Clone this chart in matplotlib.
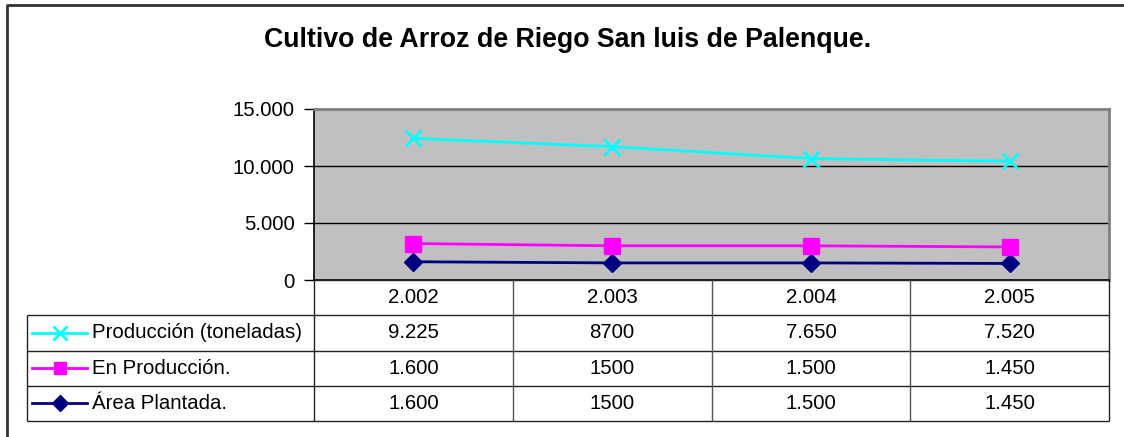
import numpy as np
import matplotlib
matplotlib.use('Agg')
import matplotlib.pyplot as plt

plt.rcParams['font.family'] = ['Liberation Sans', 'DejaVu Sans']

# Datos de la tabla
years = ['2.002', '2.003', '2.004', '2.005']
area_plantada = [1600, 1500, 1500, 1450]
en_produccion = [1600, 1500, 1500, 1450]
produccion = [9225, 8700, 7650, 7520]

# textos tal como aparecen en la tabla
area_txt = ['1.600', '1500', '1.500', '1.450']
en_prod_txt = ['1.600', '1500', '1.500', '1.450']
prod_txt = ['9.225', '8700', '7.650', '7.520']

series_names = ['Producción (toneladas)', 'En Producción.', 'Área Plantada.']
yticks = [0, 5000, 10000, 15000]
ytick_labels = ['0', '5.000', '10.000', '15.000']

W, H = 1124, 437
FS = 14.7
fig = plt.figure(figsize=(W / 100, H / 100), dpi=100)

# marco exterior
ov = fig.add_axes([0, 0, 1, 1])
ov.set_xlim(0, W)
ov.set_ylim(H, 0)
ov.axis('off')
ov.plot([7, 7, W], [H, 4.5, 4.5], color='#333333', lw=2, solid_capstyle='butt')
ov.text(568, 40, 'Cultivo de Arroz de Riego San luis de Palenque.',
        ha='center', va='center', fontsize=19.3, weight='bold')

# area del grafico
left, right, top, bottom = 314, 1109, 109, 280
ax = fig.add_axes([left / W, 1 - bottom / H, (right - left) / W, (bottom - top) / H])
ax.set_facecolor('#C0C0C0')
x = np.arange(len(years))

# lineas apiladas
stack = np.cumsum([area_plantada, en_produccion, produccion], axis=0)
styles = [
    dict(color='#000080', marker='D', ms=9),
    dict(color='#FF00FF', marker='s', ms=11),
    dict(color='#00FFFF', marker='x', ms=12, mew=2),
]
for vals, st in zip(stack, styles):
    ax.plot(x, vals, lw=2, zorder=3, **st)

ax.set_xlim(-0.5, len(years) - 0.5)
ax.set_ylim(0, 15000)
ax.set_yticks(yticks)
ax.set_yticklabels(ytick_labels, fontsize=FS)
ax.set_xticks([])
ax.tick_params(axis='y', length=7, width=1, pad=7, direction='out')
for y in yticks[1:-1]:
    ax.axhline(y, color='black', lw=1, zorder=1)
ax.spines['left'].set_color('black')
ax.spines['bottom'].set_color('black')
ax.spines['left'].set_linewidth(1.2)
ax.spines['bottom'].set_linewidth(1.2)
for s in ['top', 'right']:
    ax.spines[s].set_color('#808080')
    ax.spines[s].set_linewidth(2)

# tabla de datos
t_left, t_top, t_bottom = 27, 280, 421
n = len(years)
col_w = (right - left) / n
leg_w = (left - t_left) / col_w
axt = fig.add_axes([t_left / W, 1 - t_bottom / H, (right - t_left) / W, (t_bottom - t_top) / H])
axt.set_xlim(-0.5 - leg_w, n - 0.5)
axt.set_ylim(4, 0)
axt.axis('off')

lc = '#222222'
# lineas horizontales
axt.hlines(0, -0.5, n - 0.5, color=lc, lw=1, clip_on=False)
for r in [1, 2, 3, 4]:
    axt.hlines(r, -0.5 - leg_w, n - 0.5, color=lc, lw=1, clip_on=False)
# lineas verticales
axt.vlines(-0.5 - leg_w, 1, 4, color=lc, lw=1, clip_on=False)
for c in range(n + 1):
    axt.vlines(c - 0.5, 0, 4, color=lc if c in (0, n) else '#555555', lw=1, clip_on=False)

rows = [prod_txt, en_prod_txt, area_txt]
for i, yr in enumerate(years):
    axt.text(i, 0.5, yr, ha='center', va='center', fontsize=FS)
for r, row in enumerate(rows):
    for i, v in enumerate(row):
        axt.text(i, r + 1.5, v, ha='center', va='center', fontsize=FS)

# leyenda dentro de la tabla
px = lambda p: (p - left) / col_w - 0.5
leg_styles = [
    dict(color='#00FFFF', marker='x', ms=10, mew=2),
    dict(color='#FF00FF', marker='s', ms=9),
    dict(color='#000080', marker='D', ms=8),
]
for r, (name, st) in enumerate(zip(series_names, leg_styles)):
    yy = r + 1.5
    axt.plot([px(32), px(87)], [yy, yy], lw=2, color=st['color'], clip_on=False)
    axt.plot([px(59.5)], [yy], lw=0, clip_on=False, **st)
    axt.text(px(92), yy, name, ha='left', va='center', fontsize=FS)

fig.savefig('out.png', dpi=100)
